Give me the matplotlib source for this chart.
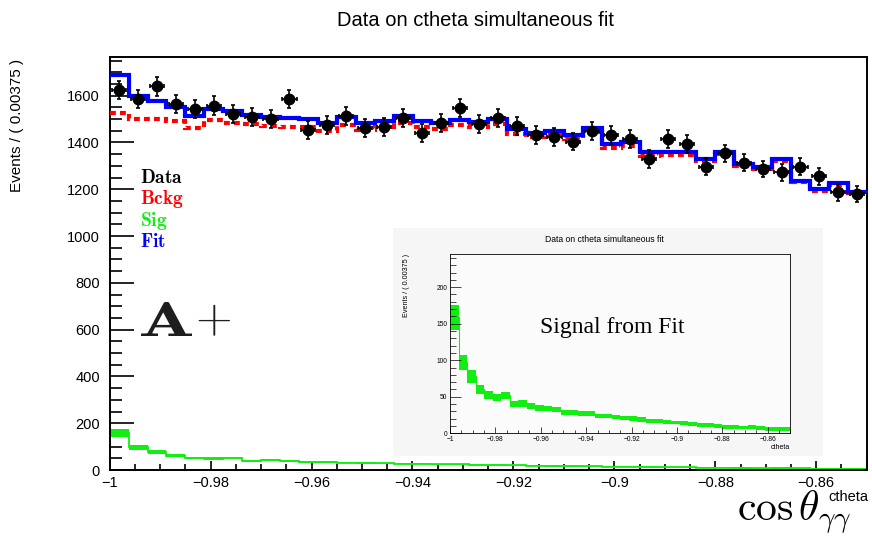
import numpy as np
import matplotlib
matplotlib.use("Agg")
import matplotlib.pyplot as plt
from matplotlib.ticker import MultipleLocator, FuncFormatter
from matplotlib.textpath import TextPath
from matplotlib.patches import PathPatch
from matplotlib.transforms import Affine2D

plt.rcParams['mathtext.fontset'] = 'cm'
plt.rcParams['font.family'] = ['Liberation Sans', 'DejaVu Sans']

# ---- binning of cos(theta_gamma gamma) ----
x_min, x_max = -1.0, -0.85
n_bins = 40

# ---- observed events per bin ----
data_counts = [1624, 1586, 1639, 1564, 1543, 1557, 1521, 1507, 1500, 1586,
               1454, 1474, 1512, 1462, 1464, 1504, 1439, 1481, 1547, 1477,
               1504, 1469, 1433, 1422, 1403, 1450, 1432, 1414, 1329, 1415,
               1393, 1297, 1354, 1314, 1286, 1272, 1297, 1255, 1186, 1179]

# ---- fit components ----
fit_total = [1686, 1597, 1576, 1550, 1514, 1543, 1536, 1519, 1510, 1504,
             1500, 1481, 1507, 1481, 1493, 1511, 1493, 1483, 1497, 1486,
             1500, 1457, 1440, 1450, 1433, 1460, 1393, 1400, 1357, 1357,
             1357, 1331, 1360, 1307, 1293, 1329, 1236, 1200, 1226, 1189]
background = [1527, 1500, 1498, 1490, 1462, 1494, 1484, 1479, 1469, 1467,
              1465, 1447, 1475, 1452, 1465, 1484, 1466, 1459, 1473, 1464,
              1479, 1437, 1421, 1433, 1416, 1444, 1378, 1386, 1344, 1345,
              1346, 1321, 1351, 1298, 1285, 1320, 1229, 1194, 1220, 1183]
signal = [159, 97, 78, 60, 52, 49, 52, 40, 41, 37,
          35, 34, 32, 29, 28, 27, 27, 24, 24, 22,
          21, 20, 19, 17, 17, 15.5, 14.6, 14, 12.5, 11.5,
          11, 10, 9, 8.7, 8, 8.5, 7, 6, 6, 5.5]
signal_err = [17, 10, 8.5, 6.5, 5.5, 5, 5, 4.5, 4.5, 4,
              4, 3.5, 3.5, 3.5, 3.5, 3, 3, 3, 3, 3,
              3, 3, 3, 3, 2.5, 2.5, 2.5, 2.5, 2.5, 2.5,
              2.5, 2.5, 2.5, 2.5, 2.5, 2.5, 2.5, 2.5, 2.5, 2.5]

legend_labels = ["Data", "Bckg", "Sig", "Fit"]

C_DATA = "black"
C_BKG = "#ff0000"
C_SIG = "#11ee11"
C_FIT = "#0000ff"

edges = np.linspace(x_min, x_max, n_bins + 1)
centers = 0.5 * (edges[:-1] + edges[1:])
counts = np.asarray(data_counts, dtype=float)
sig = np.asarray(signal, dtype=float)
sig_e = np.asarray(signal_err, dtype=float)
x_bar = 0.0014

W, H = 872, 536
fig = plt.figure(figsize=(W / 100, H / 100), dpi=100)


def fx(px):
    return px / W


def fy(py):
    return 1 - py / H


def frame(l, t, r, b):
    return [fx(l), fy(b), fx(r) - fx(l), fy(t) - fy(b)]


def fmt_x(v, _):
    s = f"{v:.2f}".rstrip("0").rstrip(".")
    return s.replace("-", "\u2212")


def boxed_glyph(tex, left, top, right, bottom, color):
    """Draw a text path stretched to fill a box given in figure pixels."""
    path = TextPath((0, 0), tex, size=100)
    ext = path.get_extents()
    sx = (right - left) / ext.width
    sy = (bottom - top) / ext.height
    tr = (Affine2D().translate(-ext.x0, -ext.y0).scale(sx / W, sy / H)
          .translate(fx(left), fy(bottom)) + fig.transFigure)
    fig.add_artist(PathPatch(path, transform=tr, facecolor=color,
                             edgecolor="none"))


# ---- main axes ----
ax = fig.add_axes(frame(109.7, 57, 866.7, 470))
ax.set_xlim(x_min, x_max)
ax.set_ylim(0, 1765)

ax.stairs(sig + sig_e, edges, baseline=sig - sig_e, fill=True, color=C_SIG, lw=0, zorder=2)
ax.stairs(sig, edges, baseline=None, color=C_SIG, lw=1.3, zorder=2)
ax.stairs(background, edges, baseline=None, color=C_BKG, lw=3.0,
          linestyle=(0, (1.4, 1.0)), zorder=3)
ax.stairs(fit_total, edges, baseline=None, color=C_FIT, lw=3.0, zorder=4)
ax.errorbar(centers, counts, yerr=np.sqrt(counts), xerr=x_bar, fmt="o",
            color=C_DATA, ms=7.5, elinewidth=1.2, capsize=1.6, capthick=1.2,
            zorder=5)

ax.xaxis.set_major_locator(MultipleLocator(0.02))
ax.xaxis.set_minor_locator(MultipleLocator(0.005))
ax.xaxis.set_major_formatter(FuncFormatter(fmt_x))
ax.yaxis.set_major_locator(MultipleLocator(200))
ax.yaxis.set_minor_locator(MultipleLocator(50))
ax.tick_params(which="both", direction="in", top=False, right=False,
               width=1.2, labelsize=10.5)
ax.tick_params(axis="y", which="major", length=17, pad=7)
ax.tick_params(axis="y", which="minor", length=8.5)
ax.tick_params(axis="x", which="major", length=6.5, pad=4)
ax.tick_params(axis="x", which="minor", length=4)
for sp in ax.spines.values():
    sp.set_linewidth(1.4)

ax.set_ylabel("Events / ( 0.00375 )", fontsize=11, loc="top")
ax.yaxis.set_label_coords(-0.113, 0.995)

fig.text(fx(475), fy(20), "Data on ctheta simultaneous fit", ha="center",
         va="center", fontsize=14.5)

# legend entries
for lab, col, py in zip(legend_labels, [C_DATA, C_BKG, C_SIG, C_FIT],
                        [178, 199, 221, 242]):
    fig.text(fx(140), fy(py), r"$\mathbf{" + lab + "}$", color=col,
             fontsize=14, va="center", ha="left")

# "A+" tag
boxed_glyph(r"$\mathbf{A}$", 141, 302, 192, 336, "#1e1e1e")
fig.text(fx(195), fy(320), r"$+$", fontsize=34, color="#1e1e1e",
         va="center", ha="left")

# axis title
fig.text(fx(737), fy(520), r"$\cos\theta_{\gamma\gamma}$", fontsize=30,
         va="baseline", ha="left")
fig.text(fx(848), fy(497), "ctheta", fontsize=10.5, ha="center", va="center")

# ---- inset with the signal component alone ----
bg = fig.add_axes(frame(393, 228, 823, 456))
bg.set_facecolor("#f6f6f6")
bg.set_xticks([])
bg.set_yticks([])
for sp in bg.spines.values():
    sp.set_visible(False)

axi = fig.add_axes(frame(450, 254.3, 790.4, 433.3))
axi.set_facecolor("#fbfbfb")
axi.set_xlim(x_min, x_max)
axi.set_ylim(0, 245)
axi.stairs(sig + sig_e, edges, baseline=sig - sig_e, fill=True, color=C_SIG, lw=0)
axi.stairs(sig, edges, baseline=None, color=C_SIG, lw=0.8)
axi.xaxis.set_major_locator(MultipleLocator(0.02))
axi.xaxis.set_minor_locator(MultipleLocator(0.005))
axi.xaxis.set_major_formatter(FuncFormatter(fmt_x))
axi.yaxis.set_major_locator(MultipleLocator(50))
axi.yaxis.set_minor_locator(MultipleLocator(10))
axi.tick_params(which="both", direction="in", top=False, right=False,
                width=0.5, labelsize=4.8, pad=2)
axi.tick_params(axis="y", which="major", length=8)
axi.tick_params(axis="y", which="minor", length=4)
axi.tick_params(axis="x", which="major", length=4)
axi.tick_params(axis="x", which="minor", length=2.5)
for sp in axi.spines.values():
    sp.set_linewidth(0.6)
axi.set_ylabel("Events / ( 0.00375 )", fontsize=5.2, loc="top")
axi.yaxis.set_label_coords(-0.117, 1.0)
axi.set_xlabel("ctheta", fontsize=5, loc="right", labelpad=1)
fig.text(fx(604), fy(240), "Data on ctheta simultaneous fit", ha="center",
         va="center", fontsize=6.2)
fig.text(fx(612), fy(327), "Signal from Fit", ha="center", va="center",
         fontsize=17, family="Liberation Serif")

fig.savefig("out.png", dpi=100)
